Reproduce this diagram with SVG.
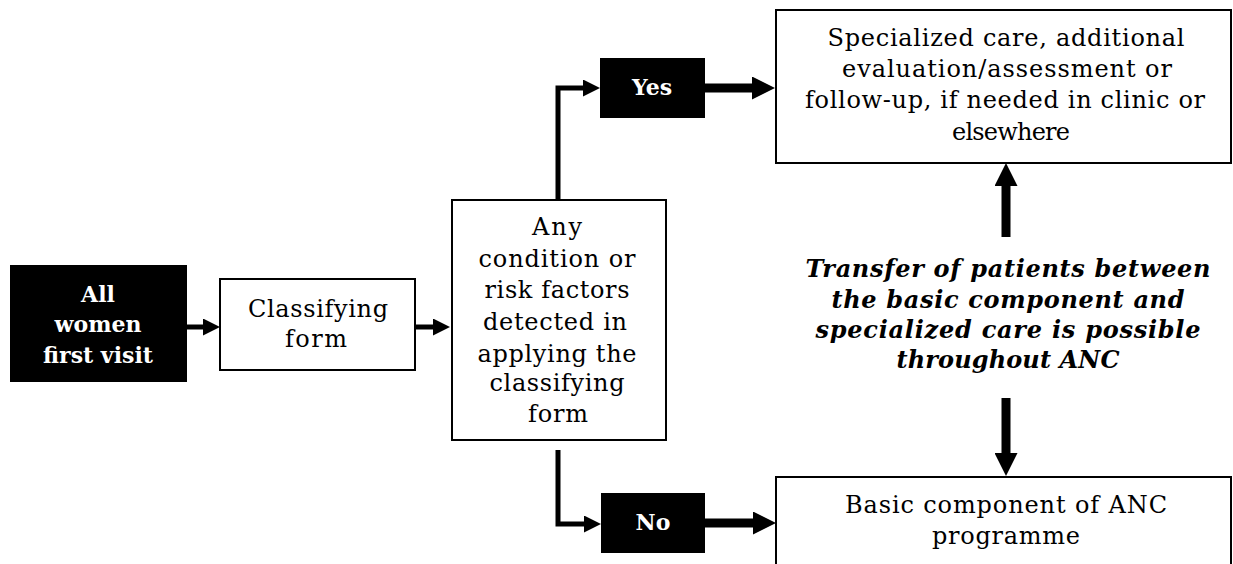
<svg xmlns="http://www.w3.org/2000/svg" width="1233" height="564" viewBox="0 0 1233 564">
<style>
.box{fill:#fff;stroke:#000;stroke-width:2}
.blk{fill:#000}
.t{font-family:"DejaVu Serif","Liberation Serif",serif;font-size:24px;text-anchor:middle;fill:#000}
.tb{font-family:"DejaVu Serif","Liberation Serif",serif;font-size:22px;font-weight:bold;text-anchor:middle;fill:#fff}
.ti{font-family:"DejaVu Serif","Liberation Serif",serif;font-size:24px;font-weight:bold;font-style:italic;text-anchor:middle;fill:#000}
.thin{fill:none;stroke:#000;stroke-width:5}
.thick{fill:none;stroke:#000;stroke-width:9}
</style>
<defs>
<marker id="hs" markerUnits="userSpaceOnUse" markerWidth="17" markerHeight="17" refX="0" refY="8.5" orient="auto" viewBox="0 0 17 17"><path d="M0,0 L17,8.5 L0,17 z" fill="#000"/></marker>
<marker id="hb" markerUnits="userSpaceOnUse" markerWidth="23" markerHeight="23" refX="0" refY="11.5" orient="auto" viewBox="0 0 23 23"><path d="M0,0 L23,11.5 L0,23 z" fill="#000"/></marker>
</defs>
<g id="connectors">
<path class="thin" d="M187,327 H203" marker-end="url(#hs)"/>
<path class="thin" d="M415,327 H433" marker-end="url(#hs)"/>
<path class="thin" d="M558,200 V88 H583" marker-end="url(#hs)"/>
<path class="thin" d="M558,450 V524 H584" marker-end="url(#hs)"/>
<path class="thick" d="M705,88 H752" marker-end="url(#hb)"/>
<path class="thick" d="M705,523 H753" marker-end="url(#hb)"/>
<path class="thick" d="M1006,237 V186" marker-end="url(#hb)"/>
<path class="thick" d="M1006,398 V453" marker-end="url(#hb)"/>
</g>
<g id="start">
<rect class="blk" x="10" y="265" width="177" height="117"/>
<text class="tb" x="98" y="302">All</text>
<text class="tb" x="98" y="332">women</text>
<text class="tb" x="98" y="363">first visit</text>
</g>
<g id="classifying">
<rect class="box" x="220" y="279" width="195" height="91"/>
<text class="t" x="318" y="317" textLength="140">Classifying</text>
<text class="t" x="316" y="347" textLength="62">form</text>
</g>
<g id="decision">
<rect class="box" x="452" y="200" width="214" height="240"/>
<text class="t" x="557" y="235" textLength="50">Any</text>
<text class="t" x="557" y="267" textLength="157">condition or</text>
<text class="t" x="557" y="298" textLength="145">risk factors</text>
<text class="t" x="555" y="330" textLength="144">detected in</text>
<text class="t" x="557" y="362" textLength="159">applying the</text>
<text class="t" x="557" y="391" textLength="135">classifying</text>
<text class="t" x="558" y="422" textLength="60">form</text>
</g>
<g id="yes">
<rect class="blk" x="600" y="58" width="105" height="60"/>
<text class="tb" x="652" y="95">Yes</text>
</g>
<g id="no">
<rect class="blk" x="601" y="493" width="104" height="60"/>
<text class="tb" x="653" y="530">No</text>
</g>
<g id="specialized">
<rect class="box" x="776" y="10" width="455" height="153"/>
<text class="t" x="1006" y="46" textLength="357">Specialized care, additional</text>
<text class="t" x="1007" y="77" textLength="330">evaluation/assessment or</text>
<text class="t" x="1005" y="108" textLength="400">follow-up, if needed in clinic or</text>
<text class="t" x="1011" y="140" textLength="118">elsewhere</text>
</g>
<g id="transfer">
<text class="ti" x="1008" y="277" textLength="405">Transfer of patients between</text>
<text class="ti" x="1008" y="308" textLength="353">the basic component and</text>
<text class="ti" x="1008" y="338" textLength="385">specialized care is possible</text>
<text class="ti" x="1008" y="368" textLength="223">throughout ANC</text>
</g>
<g id="basic">
<rect class="box" x="776" y="477" width="455" height="100"/>
<text class="t" x="1006" y="513" textLength="322">Basic component of ANC</text>
<text class="t" x="1006" y="544" textLength="148">programme</text>
</g>
</svg>
